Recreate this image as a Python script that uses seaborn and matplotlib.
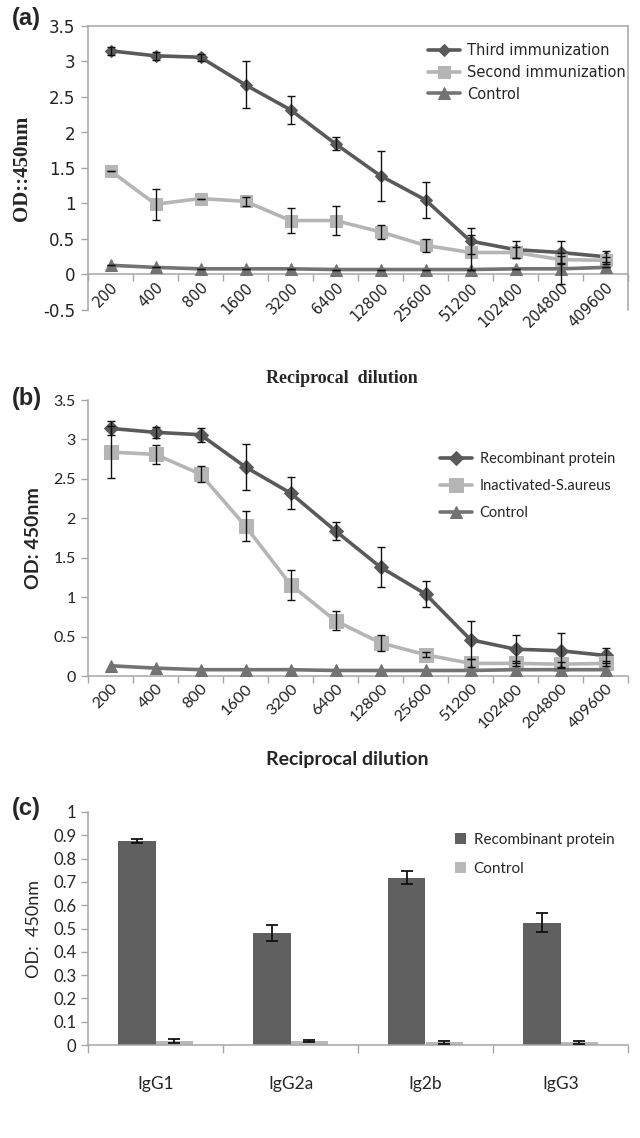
import numpy as np
import pandas as pd
import seaborn as sns
import matplotlib.pyplot as plt
from matplotlib.ticker import FixedLocator, NullFormatter

# ---------------- data ----------------
dilutions = ["200", "400", "800", "1600", "3200", "6400", "12800",
             "25600", "51200", "102400", "204800", "409600"]

# panel (a)
a_third = [3.15, 3.08, 3.06, 2.67, 2.32, 1.84, 1.39, 1.05, 0.47, 0.35, 0.31, 0.25]
a_third_err = [0.06, 0.06, 0.05, 0.33, 0.20, 0.09, 0.35, 0.25, 0.18, 0.12, 0.16, 0.08]
a_second = [1.46, 0.99, 1.07, 1.03, 0.76, 0.76, 0.60, 0.41, 0.31, 0.31, 0.21, 0.20]
a_second_err = [0.0, 0.22, 0.0, 0.06, 0.17, 0.20, 0.10, 0.09, 0.25, 0.08, 0.05, 0.05]
a_control = [0.13, 0.10, 0.08, 0.08, 0.08, 0.07, 0.07, 0.07, 0.07, 0.08, 0.08, 0.10]
a_control_err = [0.0, 0.0, 0.0, 0.0, 0.0, 0.0, 0.0, 0.0, 0.0, 0.0, 0.22, 0.0]

# panel (b)
b_recomb = [3.14, 3.09, 3.06, 2.65, 2.32, 1.84, 1.38, 1.04, 0.46, 0.34, 0.32, 0.26]
b_recomb_err = [0.09, 0.07, 0.09, 0.29, 0.20, 0.11, 0.25, 0.16, 0.24, 0.18, 0.22, 0.10]
b_inact = [2.84, 2.81, 2.56, 1.90, 1.16, 0.70, 0.42, 0.27, 0.16, 0.16, 0.15, 0.16]
b_inact_err = [0.33, 0.12, 0.10, 0.19, 0.19, 0.12, 0.10, 0.03, 0.05, 0.03, 0.03, 0.03]
b_control = [0.13, 0.10, 0.08, 0.08, 0.08, 0.07, 0.07, 0.07, 0.07, 0.08, 0.08, 0.08]

# panel (c)
subclasses = ["IgG1", "IgG2a", "Ig2b", "IgG3"]
c_recomb = [0.875, 0.482, 0.717, 0.525]
c_recomb_err = [0.010, 0.035, 0.028, 0.040]
c_control = [0.018, 0.018, 0.011, 0.011]
c_control_err = [0.008, 0.003, 0.006, 0.006]

# ---------------- style ----------------
sns.set_theme(style="ticks")
plt.rcParams['font.family'] = ['Lato', 'DejaVu Sans']

DARK = "#5a5a5a"
LIGHT = "#b5b5b5"
MID = "#737373"
SPINE = "#a6a6a6"

fig = plt.figure(figsize=(6.4, 11.38), dpi=100)
fig.patch.set_facecolor("white")

W = 540 / 640
L = 88 / 640
axa = fig.add_axes([L, 1 - 310 / 1138, W, (310 - 26) / 1138])
axb = fig.add_axes([L, 1 - 676 / 1138, W, (676 - 400) / 1138])
axc = fig.add_axes([L, 1 - 1045 / 1138, W, (1045 - 812) / 1138])

# axis (a) has its category axis drawn at OD = 0
axa.spines["bottom"].set_position(("data", 0))

pos = np.arange(len(dilutions))


def line_panel(ax, series, ylim, yticks, xfs, yfs, fam):
    for name, vals, err, color, marker, ms in series:
        df = pd.DataFrame({"pos": pos, "od": vals})
        sns.lineplot(data=df, x="pos", y="od", ax=ax, color=color, marker=marker,
                     markersize=ms, markeredgecolor=color, linewidth=2.6,
                     label=name, zorder=3)
        if err is not None:
            ax.errorbar(pos, vals, yerr=err, fmt="none", ecolor="#111111",
                        elinewidth=1.0, capsize=3, capthick=1.0, zorder=4)
    ax.set_xlim(-0.5, len(dilutions) - 0.5)
    ax.set_ylim(*ylim)
    ax.set_yticks(yticks)
    ax.set_yticklabels([("%g" % t) for t in yticks], fontsize=yfs,
                       family=fam, color="#222222")
    ax.set_xticks(pos)
    ax.set_xticklabels(dilutions, rotation=45, ha="right", rotation_mode="anchor",
                       fontsize=xfs, family=fam, color="#222222")
    ax.xaxis.set_minor_locator(FixedLocator(np.arange(-0.5, len(dilutions), 1.0)))
    ax.xaxis.set_minor_formatter(NullFormatter())
    ax.tick_params(axis="x", which="major", length=0, pad=4)
    ax.tick_params(axis="x", which="minor", length=5, color=SPINE, width=1)
    ax.tick_params(axis="y", length=5, color=SPINE, width=1, pad=4)
    ax.set_xlabel("")
    ax.set_ylabel("")


# ---------------- panel (a) ----------------
line_panel(axa, [
    ("Third immunization", a_third, a_third_err, DARK, "D", 6),
    ("Second immunization", a_second, a_second_err, LIGHT, "s", 8),
    ("Control", a_control, a_control_err, MID, "^", 8),
], (-0.5, 3.5), [-0.5, 0, 0.5, 1, 1.5, 2, 2.5, 3, 3.5], 10.5, 12, "DejaVu Sans")
for s in ["left", "top", "right", "bottom"]:
    axa.spines[s].set_color(SPINE)
    axa.spines[s].set_linewidth(1.1)
axa.legend(loc="upper right", bbox_to_anchor=(1.02, 0.985), frameon=False,
           handlelength=2.2, handletextpad=0.5, labelspacing=0.45,
           prop={"family": "DejaVu Sans", "size": 10.5})
axa.set_xlabel("Reciprocal  dilution", fontsize=13, fontweight="bold",
               family="Liberation Serif")
axa.set_ylabel("OD::450nm", fontsize=15, fontweight="bold",
               family="Liberation Serif", labelpad=8)
axa.xaxis.set_label_coords(0.47, -0.21)

# ---------------- panel (b) ----------------
line_panel(axb, [
    ("Recombinant protein", b_recomb, b_recomb_err, DARK, "D", 7),
    ("Inactivated-S.aureus", b_inact, b_inact_err, LIGHT, "s", 10),
    ("Control", b_control, None, MID, "^", 9),
], (0, 3.5), [0, 0.5, 1, 1.5, 2, 2.5, 3, 3.5], 11.5, 11.5, "Lato")
sns.despine(ax=axb)
for s in ["left", "bottom"]:
    axb.spines[s].set_color(SPINE)
    axb.spines[s].set_linewidth(1.1)
axb.legend(loc="upper right", bbox_to_anchor=(1.0, 0.86), frameon=False,
           fontsize=10.5, handlelength=2.2, handletextpad=0.5, labelspacing=0.9)
axb.set_xlabel("Reciprocal dilution", fontsize=14, fontweight="bold")
axb.set_ylabel("OD: 450nm", fontsize=14, fontweight="bold", labelpad=8)
axb.xaxis.set_label_coords(0.48, -0.27)

# ---------------- panel (c) ----------------
df_c = pd.DataFrame({
    "subclass": subclasses * 2,
    "od": c_recomb + c_control,
    "group": ["Recombinant protein"] * 4 + ["Control"] * 4,
})
sns.barplot(data=df_c, x="subclass", y="od", hue="group", ax=axc,
            palette={"Recombinant protein": "#606060", "Control": "#b9b9b9"},
            width=0.56, errorbar=None, saturation=1, linewidth=0)
for cont, err in zip(axc.containers, [c_recomb_err, c_control_err]):
    xs = [b.get_x() + b.get_width() / 2 for b in cont]
    hs = [b.get_height() for b in cont]
    axc.errorbar(xs, hs, yerr=err, fmt="none", ecolor="#111111",
                 elinewidth=1.3, capsize=4, capthick=1.3, zorder=4)
axc.set_xlim(-0.5, 3.5)
axc.set_ylim(0, 1)
yt = np.round(np.arange(0, 1.01, 0.1), 1)
axc.set_yticks(yt)
axc.set_yticklabels([("%g" % t) for t in yt])
axc.xaxis.set_minor_locator(FixedLocator(np.arange(-0.5, 4, 1.0)))
axc.xaxis.set_minor_formatter(NullFormatter())
axc.tick_params(axis="x", which="major", length=0, pad=22, labelsize=12.5)
axc.tick_params(axis="x", which="minor", length=6, color=SPINE, width=1)
axc.tick_params(axis="y", length=5, color=SPINE, width=1, labelsize=12)
sns.despine(ax=axc)
for s in ["left", "bottom"]:
    axc.spines[s].set_color(SPINE)
    axc.spines[s].set_linewidth(1.1)
axc.set_xlabel("")
axc.set_ylabel("OD:  450nm", fontsize=13, labelpad=8)
axc.legend(loc="upper right", bbox_to_anchor=(1.0, 0.97), frameon=False,
           fontsize=11, handlelength=0.7, handleheight=0.7,
           handletextpad=0.5, labelspacing=1.0)

# panel letters
for txt, y in [("(a)", 18), ("(b)", 398), ("(c)", 808)]:
    fig.text(12 / 640, 1 - y / 1138, txt, fontsize=17, fontweight="bold",
             family="Liberation Sans", va="center", ha="left")

fig.savefig("out.png", dpi=100, facecolor="white")
